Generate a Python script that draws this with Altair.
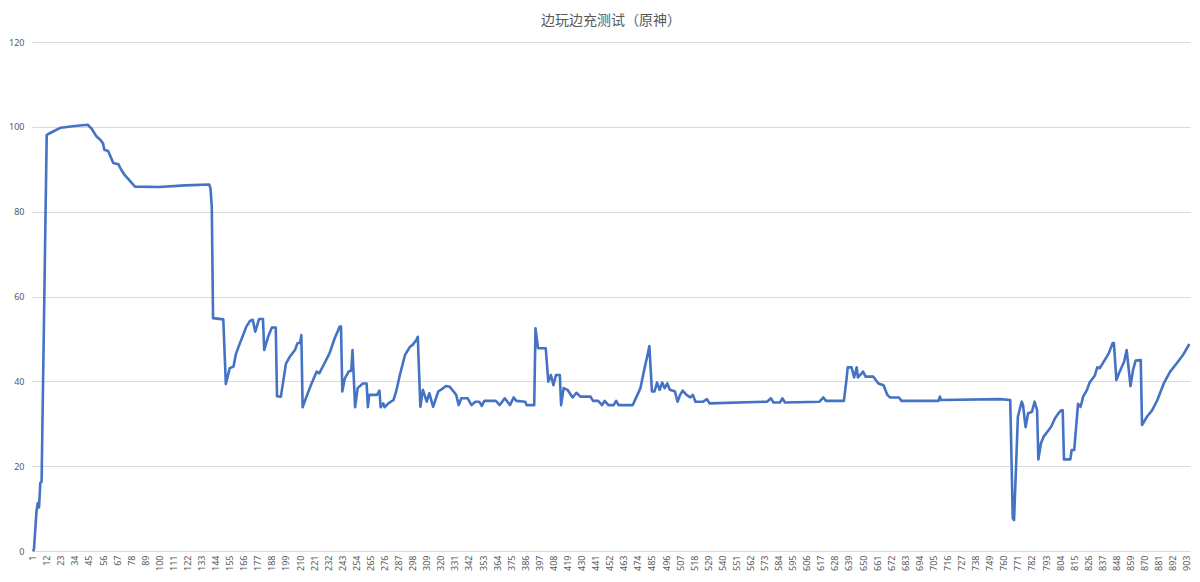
import altair as alt
import pandas as pd

# sample index (x) and reading (y) at each corner of the line
sample_idx = [
    1, 2, 4, 5, 6, 7, 8, 12, 17, 23, 34, 44, 47, 51, 54, 56, 57, 60, 62, 64,
    68, 70, 73, 76, 81, 100, 120, 139, 140, 141, 142, 150, 152, 155, 158, 160, 163, 165, 168, 171,
    173, 175, 177, 178, 181, 182, 185, 188, 191, 192, 195, 199, 202, 206, 208, 210, 211, 212, 215, 219,
    223, 225, 229, 233, 237, 241, 242, 243, 245, 248, 250, 251, 253, 255, 259, 262, 263, 264, 270, 272,
    273, 275, 276, 279, 283, 285, 288, 292, 296, 298, 301, 302, 304, 306, 309, 311, 314, 318, 322, 324,
    327, 330, 332, 334, 336, 341, 344, 347, 350, 352, 354, 363, 366, 370, 374, 377, 379, 386, 387, 393,
    394, 395, 396, 402, 404, 406, 408, 410, 413, 414, 416, 419, 423, 426, 429, 437, 439, 443, 446, 448,
    451, 455, 457, 459, 470, 473, 476, 480, 481, 483, 485, 487, 489, 491, 493, 495, 497, 499, 502, 503,
    505, 507, 509, 512, 515, 517, 519, 525, 528, 530, 575, 578, 580, 585, 587, 589, 616, 619, 621, 635,
    637, 638, 641, 643, 645, 646, 650, 652, 658, 662, 666, 669, 671, 678, 680, 709, 710, 711, 757, 765,
    767, 768, 771, 774, 775, 777, 779, 782, 784, 786, 787, 789, 791, 794, 797, 800, 803, 805, 806, 807,
    812, 813, 815, 818, 820, 822, 825, 827, 831, 833, 835, 838, 842, 845, 846, 848, 850, 854, 856, 859,
    861, 863, 867, 868, 872, 876, 880, 885, 890, 895, 900, 905,
]
sample_val = [
    0, 0.3, 9.3, 11.3, 10.3, 16.1, 16.3, 98.1, 98.9, 99.8, 100.2, 100.5, 99.6, 97.7, 96.9, 96.1, 94.6, 94.3, 92.9, 91.5,
    91.2, 90.0, 88.6, 87.6, 85.9, 85.8, 86.2, 86.4, 85.5, 81.2, 54.9, 54.6, 39.4, 43.1, 43.5, 46.6, 49.0, 50.5, 52.9, 54.3,
    54.5, 51.7, 53.7, 54.7, 54.7, 47.4, 50.5, 52.7, 52.7, 36.5, 36.4, 44.2, 45.8, 47.4, 49.0, 49.1, 50.9, 33.9, 36.4, 39.5,
    42.3, 41.9, 44.2, 46.6, 50.1, 52.9, 52.9, 37.6, 40.7, 42.3, 42.5, 47.4, 33.9, 38.4, 39.5, 39.5, 33.9, 36.8, 36.8, 37.8,
    33.9, 34.8, 33.9, 34.8, 35.6, 37.5, 41.5, 46.2, 48.2, 48.6, 49.8, 50.5, 34.0, 38.0, 35.2, 37.2, 34.0, 37.6, 38.4, 38.9,
    38.7, 37.6, 36.8, 34.4, 36.0, 36.0, 34.4, 35.2, 35.2, 34.2, 35.4, 35.4, 34.4, 36.0, 34.4, 36.2, 35.4, 35.2, 34.4, 34.4,
    52.5, 50.0, 47.8, 47.8, 39.9, 41.5, 39.1, 41.5, 41.5, 34.4, 38.4, 38.0, 36.2, 37.3, 36.4, 36.4, 35.4, 35.4, 34.4, 35.4,
    34.4, 34.4, 35.4, 34.4, 34.4, 36.4, 38.4, 44.2, 45.4, 48.3, 37.6, 37.6, 39.7, 38.0, 39.7, 38.4, 39.5, 38.0, 37.7, 37.6,
    35.2, 36.8, 37.8, 36.8, 36.2, 36.8, 35.2, 35.2, 35.8, 34.8, 35.2, 36.0, 35.0, 35.0, 36.0, 35.0, 35.2, 36.2, 35.4, 35.4,
    40.3, 43.3, 43.3, 40.9, 43.3, 40.9, 42.3, 41.1, 41.1, 39.5, 39.1, 36.8, 36.2, 36.2, 35.4, 35.4, 36.4, 35.6, 35.8, 35.6,
    7.7, 7.3, 31.7, 35.2, 34.4, 29.2, 32.5, 32.8, 35.2, 33.2, 21.6, 25.4, 26.9, 28.1, 29.3, 31.3, 32.6, 33.2, 33.2, 21.6,
    21.6, 23.8, 23.8, 34.7, 34.0, 36.4, 38.0, 39.7, 41.3, 43.3, 43.1, 44.6, 46.6, 49.0, 49.0, 40.3, 41.9, 44.6, 47.4, 38.9,
    42.7, 44.9, 45.0, 29.7, 31.7, 33.2, 35.6, 39.5, 42.3, 44.2, 46.2, 48.8,
]
x_ticks = list(range(1, 904, 11))
y_ticks = [0, 20, 40, 60, 80, 100, 120]
n_samples = 905

df = pd.DataFrame({'idx': sample_idx, 'val': sample_val})

label_font = 'Noto Sans'
grey = '#595959'

chart = alt.Chart(df).mark_line(color='#4472C4', strokeWidth=2.6, strokeJoin='round').encode(
    x=alt.X('idx:Q',
            scale=alt.Scale(domain=[0.5, n_samples + 0.5], nice=False, zero=False),
            axis=alt.Axis(values=x_ticks, title=None, labelAngle=270, labelAlign='right',
                          labelBaseline='middle', labelPadding=4, grid=False, ticks=False,
                          domainColor='#d9d9d9', domainWidth=1, labelFontSize=9,
                          labelColor=grey, labelFont=label_font, labelOverlap=False,
                          labelFlush=False)),
    y=alt.Y('val:Q',
            scale=alt.Scale(domain=[0, 120], nice=False),
            axis=alt.Axis(values=y_ticks, title=None, grid=True, gridColor='#d9d9d9',
                          domain=False, ticks=False, labelPadding=8, labelFontSize=9,
                          labelColor=grey, labelFont=label_font)),
).properties(
    width=1158,
    height=509,
    autosize=alt.AutoSizeParams(type='none'),
    padding={'left': 24, 'top': 34, 'right': 2, 'bottom': 23},
    title=alt.TitleParams('边玩边充测试（原神）', font='Noto Sans CJK SC', fontSize=14,
                          fontWeight='normal', color=grey, anchor='middle', offset=10),
).configure_view(stroke=None)

chart.save('out.html', embed_options={'renderer': 'svg', 'actions': False})
